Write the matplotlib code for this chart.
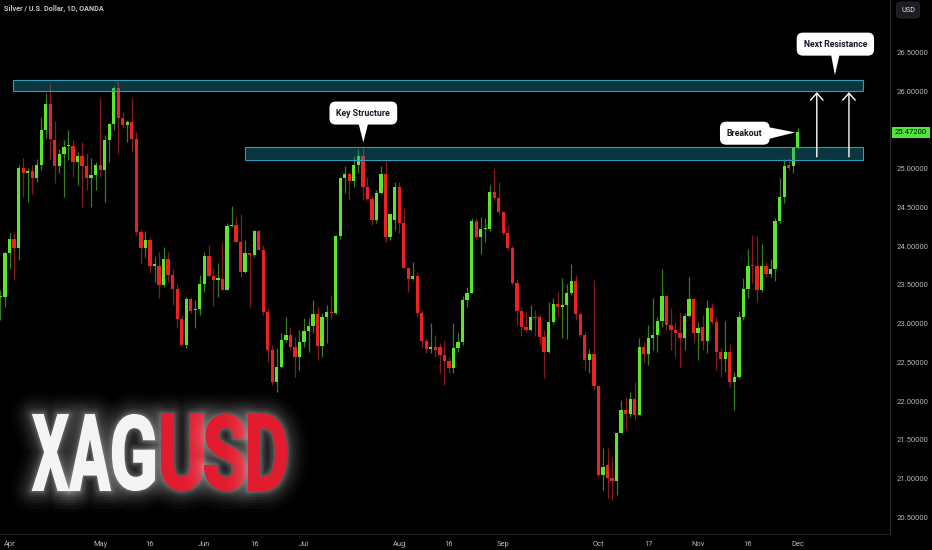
import matplotlib
matplotlib.use('Agg')
import matplotlib.pyplot as plt
import matplotlib.patheffects as pe
from matplotlib.textpath import TextPath
from matplotlib.font_manager import FontProperties
from matplotlib.patches import PathPatch, Rectangle, Polygon
from matplotlib.transforms import Affine2D, IdentityTransform, blended_transform_factory
import numpy as np
import pandas as pd

# daily OHLC, XAGUSD (OANDA)
opens = [23.34, 23.35, 23.91, 24.10, 23.98, 25.01, 24.95, 24.97, 24.88, 25.05,
         25.50, 25.84, 25.37, 25.04, 25.19, 25.29, 25.30, 25.09, 25.16, 25.03,
         24.88, 24.92, 25.05, 24.99, 25.37, 25.58, 26.05, 25.66, 25.56, 25.61,
         25.39, 24.19, 23.98, 24.08, 23.75, 23.75, 23.50, 23.84, 23.63, 23.45,
         23.06, 22.73, 23.32, 23.18, 23.19, 23.51, 23.87, 23.62, 23.57, 23.58,
         23.43, 24.26, 24.28, 24.06, 23.67, 23.91, 23.89, 24.20, 23.95, 23.15,
         22.66, 22.25, 22.44, 22.79, 22.86, 22.70, 22.57, 22.76, 22.91, 22.97,
         23.13, 22.71, 23.09, 23.15, 23.14, 24.13, 24.88, 24.93, 24.84, 25.05,
         25.16, 24.76, 24.61, 24.34, 24.69, 24.93, 24.12, 24.34, 24.76, 24.30,
         23.72, 23.58, 23.62, 23.14, 22.78, 22.67, 22.70, 22.70, 22.60, 22.52,
         22.43, 22.69, 22.76, 23.31, 23.40, 24.32, 24.12, 24.22, 24.22, 24.70,
         24.62, 24.44, 24.17, 23.98, 23.53, 23.17, 22.96, 22.92, 23.08, 23.08,
         22.83, 22.64, 23.02, 23.26, 23.22, 23.24, 23.39, 23.55, 23.13, 22.86,
         22.53, 22.61, 22.19, 21.05, 21.17, 21.01, 20.97, 21.59, 21.89, 21.83,
         22.03, 21.82, 22.70, 22.61, 22.81, 22.86, 23.04, 23.36, 22.98, 22.92,
         22.88, 22.81, 23.10, 23.32, 22.88, 22.96, 22.77, 23.20, 23.02, 22.63,
         22.55, 22.63, 22.25, 22.31, 23.09, 23.45, 23.76, 23.74, 23.44, 23.75,
         23.64, 23.71, 24.33, 24.64, 25.05, 25.03, 25.28]
highs = [23.44, 23.93, 24.17, 24.19, 25.05, 25.14, 25.01, 25.05, 25.13, 25.67,
         25.98, 26.11, 25.62, 25.25, 25.37, 25.50, 25.37, 25.22, 25.35, 25.21,
         25.14, 25.09, 25.92, 25.44, 25.59, 26.07, 26.15, 25.74, 25.63, 25.92,
         25.48, 24.22, 24.20, 24.12, 23.86, 23.93, 23.99, 23.93, 23.71, 23.51,
         23.11, 23.35, 23.35, 23.31, 23.63, 23.92, 24.02, 23.72, 23.79, 24.05,
         24.30, 24.52, 24.38, 24.41, 24.08, 23.91, 24.21, 24.21, 24.02, 23.20,
         22.73, 22.69, 22.88, 23.08, 22.96, 22.83, 22.92, 23.07, 23.07, 23.31,
         23.22, 23.14, 23.24, 23.37, 24.15, 24.90, 25.04, 24.96, 25.17, 25.25,
         25.27, 24.90, 24.66, 24.73, 25.03, 25.12, 24.41, 24.83, 24.83, 24.50,
         23.73, 23.80, 23.66, 23.18, 22.82, 23.01, 22.86, 22.75, 22.79, 22.57,
         23.01, 22.88, 23.36, 23.48, 24.37, 24.37, 24.38, 24.37, 24.79, 25.01,
         24.83, 24.46, 24.27, 24.00, 23.58, 23.22, 23.15, 23.24, 23.18, 23.13,
         22.92, 23.28, 23.33, 23.41, 23.59, 23.51, 23.77, 23.63, 23.14, 22.89,
         22.67, 23.57, 22.19, 21.40, 21.40, 21.28, 21.60, 22.02, 22.05, 22.12,
         22.25, 22.81, 22.76, 22.98, 23.33, 23.09, 23.70, 23.37, 23.20, 23.02,
         23.14, 23.14, 23.60, 23.33, 23.02, 23.11, 23.31, 23.27, 23.09, 22.68,
         23.03, 22.74, 22.38, 23.17, 23.59, 23.96, 24.14, 24.13, 24.03, 23.80,
         23.84, 24.37, 24.88, 25.13, 25.14, 25.28, 25.53]
lows = [23.05, 23.22, 23.70, 23.57, 23.82, 24.64, 24.57, 24.68, 24.83, 24.99,
        25.40, 25.12, 24.82, 24.94, 24.64, 25.12, 24.90, 24.79, 24.51, 24.73,
        24.51, 24.73, 24.90, 24.57, 25.09, 25.50, 25.19, 25.53, 25.35, 25.22,
        24.15, 23.77, 23.86, 23.66, 23.54, 23.33, 23.48, 23.54, 23.24, 22.95,
        22.72, 22.69, 23.14, 22.95, 23.11, 23.41, 23.60, 23.23, 23.34, 23.43,
        23.43, 24.25, 24.06, 23.60, 23.66, 23.22, 23.86, 23.95, 23.11, 22.51,
        22.21, 22.12, 22.43, 22.76, 22.66, 22.31, 22.40, 22.70, 22.64, 22.88,
        22.53, 22.57, 22.75, 23.06, 23.12, 24.10, 24.69, 24.60, 24.77, 24.95,
        24.60, 24.60, 24.27, 24.30, 24.68, 24.06, 24.08, 24.21, 24.17, 23.71,
        23.41, 23.57, 23.09, 22.69, 22.62, 22.62, 22.57, 22.36, 22.21, 22.36,
        22.36, 22.64, 22.72, 23.22, 23.40, 24.09, 23.90, 24.06, 24.20, 24.60,
        24.40, 24.15, 23.95, 23.50, 22.98, 22.84, 22.89, 22.90, 22.84, 22.73,
        22.30, 22.62, 22.99, 23.09, 22.82, 22.80, 23.37, 23.05, 22.83, 22.40,
        22.36, 22.14, 21.02, 20.85, 20.75, 20.72, 20.79, 21.59, 21.63, 21.80,
        21.76, 21.82, 22.49, 22.47, 22.66, 22.64, 22.96, 22.92, 22.66, 22.57,
        22.44, 22.66, 23.09, 22.75, 22.53, 22.66, 22.62, 23.00, 22.40, 22.31,
        22.38, 22.18, 21.89, 22.30, 23.05, 23.33, 23.53, 23.28, 23.41, 23.60,
        23.60, 23.55, 24.30, 24.56, 24.99, 24.95, 25.25]
closes = [23.35, 23.91, 24.10, 23.98, 25.01, 24.95, 24.97, 24.88, 25.05, 25.50,
          25.84, 25.39, 25.04, 25.19, 25.28, 25.30, 25.09, 25.16, 25.03, 24.88,
          24.92, 25.05, 24.99, 25.37, 25.58, 26.05, 25.66, 25.56, 25.61, 25.39,
          24.19, 23.98, 24.08, 23.75, 23.77, 23.50, 23.84, 23.63, 23.45, 23.06,
          22.73, 23.32, 23.17, 23.19, 23.51, 23.87, 23.62, 23.57, 23.58, 23.43,
          24.26, 24.28, 24.06, 23.67, 23.91, 23.89, 24.20, 23.95, 23.15, 22.66,
          22.25, 22.44, 22.79, 22.86, 22.70, 22.57, 22.76, 22.91, 22.97, 23.13,
          22.71, 23.09, 23.15, 23.14, 24.13, 24.88, 24.93, 24.84, 25.05, 25.16,
          24.76, 24.61, 24.34, 24.69, 24.93, 24.12, 24.41, 24.76, 24.30, 23.72,
          23.58, 23.62, 23.14, 22.78, 22.67, 22.70, 22.66, 22.60, 22.52, 22.43,
          22.69, 22.76, 23.31, 23.40, 24.32, 24.12, 24.22, 24.24, 24.70, 24.62,
          24.44, 24.17, 23.98, 23.53, 23.17, 22.96, 22.92, 23.08, 23.07, 22.83,
          22.64, 23.02, 23.26, 23.21, 23.24, 23.39, 23.55, 23.13, 22.86, 22.53,
          22.61, 22.19, 21.05, 21.15, 21.01, 20.97, 21.59, 21.89, 21.83, 22.03,
          21.82, 22.70, 22.61, 22.81, 22.86, 23.04, 23.36, 22.98, 22.92, 22.88,
          22.81, 23.10, 23.32, 22.88, 22.95, 22.77, 23.20, 23.02, 22.63, 22.55,
          22.63, 22.25, 22.31, 23.09, 23.45, 23.75, 23.74, 23.44, 23.75, 23.64,
          23.71, 24.33, 24.64, 25.03, 25.01, 25.28, 25.472]

last_date = '2023-12-01'
tick_dates = ['2023-04-03', '2023-05-01', '2023-05-16', '2023-06-01', '2023-06-16',
              '2023-07-03', '2023-08-01', '2023-08-16', '2023-09-01', '2023-10-02',
              '2023-10-17', '2023-11-01', '2023-11-16', '2023-12-01']
tick_labels = ['Apr', 'May', '16', 'Jun', '16', 'Jul', 'Aug', '16', 'Sep', 'Oct',
               '17', 'Nov', '16', 'Dec']
price_ticks = [20.5, 21.0, 21.5, 22.0, 22.5, 23.0, 23.5, 24.0, 24.5, 25.0, 26.0, 26.5]

# zones (price bands)
upper_zone = (26.01, 26.15)
lower_zone = (25.12, 25.28)

GREEN = '#5ae62a'
RED = '#ec2222'
GREEN_WICK = '#357f20'
RED_WICK = '#861b1b'
BG = '#000000'
TXT = '#b4b6bb'

plt.rcParams['font.family'] = ['Roboto', 'DejaVu Sans']

dates = pd.bdate_range(end=last_date, periods=len(closes))
x = np.arange(len(closes))
o = np.array(opens)
c = np.array(closes)
h = np.array(highs)
l = np.array(lows)
up = c >= o

fig = plt.figure(figsize=(9.32, 5.5), dpi=100, facecolor=BG)
ax = fig.add_axes([0, 16 / 550, 890 / 932, 534 / 550], facecolor=BG)

ax.vlines(x, l, h, colors=np.where(up, GREEN_WICK, RED_WICK), linewidth=0.9, zorder=2)
body_bottom = np.minimum(o, c)
body_height = np.maximum(np.abs(c - o), 0.015)
ax.bar(x, body_height, bottom=body_bottom, width=0.72,
       color=np.where(up, GREEN, RED), linewidth=0, zorder=3)

# zones
x_end = 190.3
for x0, (lo, hi) in [(2.85, upper_zone), (54.0, lower_zone)]:
    ax.add_patch(Rectangle((x0, lo), x_end - x0, hi - lo, facecolor='#1e8ca5',
                           alpha=0.38, edgecolor='none', zorder=4))
    ax.add_patch(Rectangle((x0, lo), x_end - x0, hi - lo, facecolor='none',
                           edgecolor='#2f9fb8', linewidth=0.8, zorder=5))

# arrows to next resistance
for ax_x in [180.2, 187.3]:
    ax.annotate('', xy=(ax_x, 25.99), xytext=(ax_x, 25.155),
                arrowprops=dict(arrowstyle='->,head_length=0.5,head_width=0.45',
                                color='white', lw=1.0, mutation_scale=10,
                                shrinkA=0, shrinkB=0), zorder=6)

# callouts
box_kw = dict(boxstyle='round,pad=0.8,rounding_size=0.7', fc='white', ec='none')
def callout(tx, ty, text, tri):
    ax.add_patch(Polygon(tri, closed=True, fc='white', ec='none', zorder=7))
    ax.text(tx, ty, text, ha='center', va='center', fontsize=6.3, fontweight='bold',
            color='#131722', bbox=box_kw, zorder=8)

callout(80.1, 25.72, 'Key Structure', [(78.9, 25.62), (81.3, 25.62), (80.1, 25.34)])
callout(184.3, 26.61, 'Next Resistance', [(183.2, 26.52), (185.4, 26.52), (184.2, 26.21)])
callout(164.3, 25.46, 'Breakout', [(168.5, 25.55), (168.5, 25.37), (175.4, 25.47)])

# axes styling
ax.set_xlim(-0.11, 196.36)
ax.set_ylim(20.284, 27.18)
ax.yaxis.tick_right()
ax.set_yticks(price_ticks)
ax.set_yticklabels([f'{p:.5f}' for p in price_ticks])
tick_idx = dates.get_indexer(pd.to_datetime(tick_dates))
ax.set_xticks(tick_idx)
ax.set_xticklabels(tick_labels)
ax.tick_params(axis='y', length=0, pad=5, labelsize=5.5, labelcolor=TXT)
ax.tick_params(axis='x', length=0, pad=5, labelsize=5.4, labelcolor=TXT)
for s in ['top', 'left']:
    ax.spines[s].set_visible(False)
ax.spines['right'].set_color('#2c2c2c')
ax.spines['right'].set_linewidth(0.8)
ax.spines['bottom'].set_color('#1a1a1a')
ax.spines['bottom'].set_linewidth(0.8)

# last price tag
tr = blended_transform_factory(ax.transAxes, ax.transData)
ax.text(1.0 + 5 / 890, c[-1], f'{c[-1]:.5f}', transform=tr, ha='left', va='center',
        fontsize=5.5, color='#0a0a0a', clip_on=False,
        bbox=dict(boxstyle='square,pad=0.35', fc='#4ee63a', ec='none'), zorder=10)

fig.text(4 / 932, 1 - 9 / 550, 'Silver / U.S. Dollar, 1D, OANDA', fontsize=5.2,
         color='#c4c6cc', fontweight='bold', ha='left', va='center')
fig.text(908 / 932, 1 - 10 / 550, 'USD', fontsize=5.3, color='#e0e0e0',
         ha='center', va='center',
         bbox=dict(boxstyle='round,pad=0.6,rounding_size=0.5', fc='#1c1d22', ec='#2a2b30', lw=0.6))

# big glowing XAGUSD label
fp = FontProperties(family='Roboto', weight='bold')
glow = [pe.Stroke(linewidth=w, foreground='white', alpha=a, joinstyle='round')
        for w, a in [(32, 0.02), (27, 0.025), (22, 0.03), (18, 0.035), (14, 0.045),
                     (10, 0.06), (7, 0.08), (4, 0.12)]] + [pe.Normal()]
letters = [('X', 33, 68, '#f4f4f4'), ('A', 70, 110, '#f4f4f4'), ('G', 113, 154, '#f4f4f4'),
           ('U', 162, 202, '#e31b2f'), ('S', 205, 245, '#e31b2f'), ('D', 249, 286, '#e31b2f')]
y0, y1 = 550 - 490, 550 - 415
for ch, x0, x1, col in letters:
    tp = TextPath((0, 0), ch, size=100, prop=fp)
    ext = tp.get_extents()
    t = (Affine2D().translate(-ext.x0, -ext.y0)
         .scale((x1 - x0) / ext.width, (y1 - y0) / ext.height).translate(x0, y0))
    patch = PathPatch(t.transform_path(tp), transform=IdentityTransform(),
                      fc=col, ec=col, lw=1.5, path_effects=glow, zorder=20)
    fig.add_artist(patch)

fig.savefig('out.png', dpi=100, facecolor=BG)
